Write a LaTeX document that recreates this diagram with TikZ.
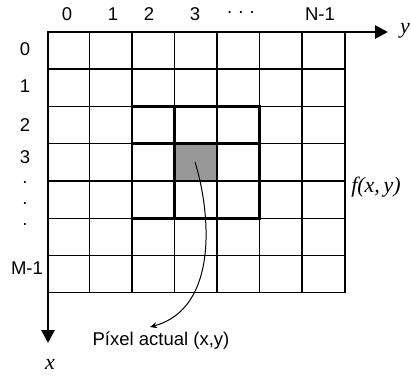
\documentclass[tikz,border=0pt]{standalone}
\usepackage{fontspec}
\setmainfont{Liberation Sans}
\newfontfamily\serifit{Liberation Serif}
\usetikzlibrary{arrows.meta}
\definecolor{cellgray}{RGB}{152,152,152}
\begin{document}
\begin{tikzpicture}[x=1pt,y=-1pt,
  lbl/.style={font=\fontsize{18.5}{21}\selectfont, inner sep=0pt},
  mlbl/.style={font=\serifit\itshape\fontsize{22}{25}\selectfont, inner sep=0pt},
  thingrid/.style={line width=1.2pt},
  thickgrid/.style={line width=2.6pt, line cap=rect},
  axis/.style={line width=2.6pt, line cap=rect, -{Triangle[length=13pt,width=13pt]}},
  pointer/.style={line width=1pt, -{Stealth[length=7pt,width=6pt]}}]
\useasboundingbox (0,0) rectangle (411,376);
% current pixel
\fill[cellgray] (174.5,143.5) rectangle (217,181);
% grid
\foreach \x in {89.5,132,174.5,217,259.5,302,345}
  \draw[thingrid] (\x,32) -- (\x,292.7);
\foreach \y in {69,106.3,143.5,181,218.3,255.7,292.7}
  \draw[thingrid] (48,\y) -- (345,\y);
% neighbourhood
\foreach \x in {132,174.5,217,259.5}
  \draw[thickgrid] (\x,106.3) -- (\x,218.3);
\foreach \y in {106.3,143.5,181,218.3}
  \draw[thickgrid] (132,\y) -- (259.5,\y);
% axes
\coordinate (o) at (48,32);
\coordinate (ye) at (388,32);
\coordinate (xe) at (48,343);
\draw[axis] (o) -- (ye);
\draw[axis] (o) -- (xe);
\node[mlbl] (ylab) at (405,31) {y};
\node[mlbl] (xlab) at (50,364) {x};
\node[mlbl] (flab) at (376,187) {f(x,\,y)};
% column labels
\node[lbl] (c0) at (67,14) {0};
\node[lbl] (c1) at (113,14) {1};
\node[lbl] (c2) at (149,14) {2};
\node[lbl] (c3) at (195,14) {3};
\node[lbl] (cd) at (241,14) {· · ·};
\node[lbl] (cN) at (320,14) {N-1};
% row labels
\node[lbl] (r0) at (25,49) {0};
\node[lbl] (r1) at (25,86) {1};
\node[lbl] (r2) at (25,125) {2};
\node[lbl] (r3) at (25,157) {3};
\node[lbl] (rd1) at (25,183) {.};
\node[lbl] (rd2) at (25,204) {.};
\node[lbl] (rd3) at (25,225) {.};
\node[lbl] (rM) at (27,268) {M-1};
% pointer
\node[lbl] (act) at (161,341) {Píxel actual (x,y)};
\coordinate (p) at (195,162);
\coordinate (tip) at (150,327);
\draw[pointer] (p) .. controls (210,210) and (220,308) .. (tip);
\end{tikzpicture}
\end{document}
